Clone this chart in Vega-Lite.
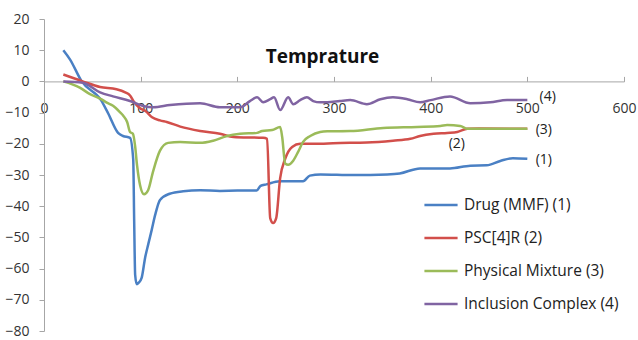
{
  "$schema": "https://vega.github.io/schema/vega-lite/v6.json",
  "width": 580,
  "height": 312,
  "autosize": {"type": "none"},
  "padding": {"left": 44, "top": 19, "right": 14, "bottom": 9},
  "background": "white",
  "config": {"view": {"stroke": null}, "font": "Open Sans"},
  "datasets": {
    "curves": [
      {"series": "Drug (MMF) (1)", "t": 20, "v": 10},
      {"series": "Drug (MMF) (1)", "t": 27, "v": 7},
      {"series": "Drug (MMF) (1)", "t": 39, "v": 0},
      {"series": "Drug (MMF) (1)", "t": 59, "v": -6},
      {"series": "Drug (MMF) (1)", "t": 66, "v": -10},
      {"series": "Drug (MMF) (1)", "t": 76.6, "v": -16.5},
      {"series": "Drug (MMF) (1)", "t": 81.8, "v": -17.5},
      {"series": "Drug (MMF) (1)", "t": 89, "v": -18.1},
      {"series": "Drug (MMF) (1)", "t": 92.3, "v": -25},
      {"series": "Drug (MMF) (1)", "t": 93.3, "v": -45},
      {"series": "Drug (MMF) (1)", "t": 94.3, "v": -62},
      {"series": "Drug (MMF) (1)", "t": 96, "v": -65},
      {"series": "Drug (MMF) (1)", "t": 98, "v": -64.5},
      {"series": "Drug (MMF) (1)", "t": 101, "v": -63},
      {"series": "Drug (MMF) (1)", "t": 104.6, "v": -56.5},
      {"series": "Drug (MMF) (1)", "t": 108, "v": -52},
      {"series": "Drug (MMF) (1)", "t": 111.5, "v": -47.5},
      {"series": "Drug (MMF) (1)", "t": 115, "v": -42.8},
      {"series": "Drug (MMF) (1)", "t": 120, "v": -38},
      {"series": "Drug (MMF) (1)", "t": 130, "v": -36},
      {"series": "Drug (MMF) (1)", "t": 144, "v": -35.2},
      {"series": "Drug (MMF) (1)", "t": 161.5, "v": -34.9},
      {"series": "Drug (MMF) (1)", "t": 182, "v": -35.1},
      {"series": "Drug (MMF) (1)", "t": 200, "v": -35},
      {"series": "Drug (MMF) (1)", "t": 220, "v": -35},
      {"series": "Drug (MMF) (1)", "t": 224, "v": -33.5},
      {"series": "Drug (MMF) (1)", "t": 230, "v": -33},
      {"series": "Drug (MMF) (1)", "t": 244, "v": -32},
      {"series": "Drug (MMF) (1)", "t": 268, "v": -32},
      {"series": "Drug (MMF) (1)", "t": 275, "v": -30.2},
      {"series": "Drug (MMF) (1)", "t": 286, "v": -29.8},
      {"series": "Drug (MMF) (1)", "t": 320, "v": -30},
      {"series": "Drug (MMF) (1)", "t": 355, "v": -29.8},
      {"series": "Drug (MMF) (1)", "t": 368, "v": -29.5},
      {"series": "Drug (MMF) (1)", "t": 389, "v": -27.9},
      {"series": "Drug (MMF) (1)", "t": 420, "v": -27.9},
      {"series": "Drug (MMF) (1)", "t": 441, "v": -27},
      {"series": "Drug (MMF) (1)", "t": 458, "v": -26.9},
      {"series": "Drug (MMF) (1)", "t": 472, "v": -25.5},
      {"series": "Drug (MMF) (1)", "t": 485, "v": -24.6},
      {"series": "Drug (MMF) (1)", "t": 500, "v": -24.8},
      {"series": "PSC[4]R (2)", "t": 20, "v": 2.2},
      {"series": "PSC[4]R (2)", "t": 40, "v": 0},
      {"series": "PSC[4]R (2)", "t": 58, "v": -1.8},
      {"series": "PSC[4]R (2)", "t": 75, "v": -2.5},
      {"series": "PSC[4]R (2)", "t": 84, "v": -3.5},
      {"series": "PSC[4]R (2)", "t": 89, "v": -4.5},
      {"series": "PSC[4]R (2)", "t": 93, "v": -6.5},
      {"series": "PSC[4]R (2)", "t": 99, "v": -8.5},
      {"series": "PSC[4]R (2)", "t": 105, "v": -9.5},
      {"series": "PSC[4]R (2)", "t": 111.8, "v": -11.5},
      {"series": "PSC[4]R (2)", "t": 120, "v": -12.5},
      {"series": "PSC[4]R (2)", "t": 127, "v": -13},
      {"series": "PSC[4]R (2)", "t": 141, "v": -14.5},
      {"series": "PSC[4]R (2)", "t": 161.5, "v": -15.9},
      {"series": "PSC[4]R (2)", "t": 182, "v": -16.8},
      {"series": "PSC[4]R (2)", "t": 196, "v": -17.8},
      {"series": "PSC[4]R (2)", "t": 226.7, "v": -18.1},
      {"series": "PSC[4]R (2)", "t": 230.8, "v": -18.4},
      {"series": "PSC[4]R (2)", "t": 234, "v": -43.8},
      {"series": "PSC[4]R (2)", "t": 237, "v": -45.4},
      {"series": "PSC[4]R (2)", "t": 240.2, "v": -43.8},
      {"series": "PSC[4]R (2)", "t": 244.3, "v": -31},
      {"series": "PSC[4]R (2)", "t": 249.5, "v": -24.8},
      {"series": "PSC[4]R (2)", "t": 256.7, "v": -21},
      {"series": "PSC[4]R (2)", "t": 265, "v": -20},
      {"series": "PSC[4]R (2)", "t": 286, "v": -20},
      {"series": "PSC[4]R (2)", "t": 299, "v": -19.8},
      {"series": "PSC[4]R (2)", "t": 334, "v": -19.6},
      {"series": "PSC[4]R (2)", "t": 361, "v": -19},
      {"series": "PSC[4]R (2)", "t": 379, "v": -18.4},
      {"series": "PSC[4]R (2)", "t": 389, "v": -17.5},
      {"series": "PSC[4]R (2)", "t": 403, "v": -16.8},
      {"series": "PSC[4]R (2)", "t": 417, "v": -16.5},
      {"series": "PSC[4]R (2)", "t": 427.5, "v": -16.2},
      {"series": "PSC[4]R (2)", "t": 438, "v": -15.2},
      {"series": "PSC[4]R (2)", "t": 450, "v": -15.1},
      {"series": "PSC[4]R (2)", "t": 500, "v": -15.2},
      {"series": "Physical Mixture (3)", "t": 20, "v": 0},
      {"series": "Physical Mixture (3)", "t": 37, "v": -2},
      {"series": "Physical Mixture (3)", "t": 47.6, "v": -4.1},
      {"series": "Physical Mixture (3)", "t": 58, "v": -5.5},
      {"series": "Physical Mixture (3)", "t": 65, "v": -6.8},
      {"series": "Physical Mixture (3)", "t": 71.4, "v": -7.8},
      {"series": "Physical Mixture (3)", "t": 78.7, "v": -9.9},
      {"series": "Physical Mixture (3)", "t": 82, "v": -11},
      {"series": "Physical Mixture (3)", "t": 86, "v": -13},
      {"series": "Physical Mixture (3)", "t": 89, "v": -16.2},
      {"series": "Physical Mixture (3)", "t": 92, "v": -16.8},
      {"series": "Physical Mixture (3)", "t": 94.2, "v": -20.6},
      {"series": "Physical Mixture (3)", "t": 96.3, "v": -27},
      {"series": "Physical Mixture (3)", "t": 99.4, "v": -33.3},
      {"series": "Physical Mixture (3)", "t": 103.5, "v": -36.2},
      {"series": "Physical Mixture (3)", "t": 107.7, "v": -34.9},
      {"series": "Physical Mixture (3)", "t": 112.8, "v": -28.9},
      {"series": "Physical Mixture (3)", "t": 120, "v": -22.2},
      {"series": "Physical Mixture (3)", "t": 128.4, "v": -19.7},
      {"series": "Physical Mixture (3)", "t": 140.8, "v": -19.4},
      {"series": "Physical Mixture (3)", "t": 161.5, "v": -19.7},
      {"series": "Physical Mixture (3)", "t": 175, "v": -19},
      {"series": "Physical Mixture (3)", "t": 189.4, "v": -17.5},
      {"series": "Physical Mixture (3)", "t": 202.9, "v": -16.8},
      {"series": "Physical Mixture (3)", "t": 220.5, "v": -16.5},
      {"series": "Physical Mixture (3)", "t": 225.7, "v": -15.9},
      {"series": "Physical Mixture (3)", "t": 236, "v": -15.6},
      {"series": "Physical Mixture (3)", "t": 244.3, "v": -14.6},
      {"series": "Physical Mixture (3)", "t": 246.4, "v": -17.8},
      {"series": "Physical Mixture (3)", "t": 249.5, "v": -26.3},
      {"series": "Physical Mixture (3)", "t": 252.6, "v": -26.7},
      {"series": "Physical Mixture (3)", "t": 257.8, "v": -25.4},
      {"series": "Physical Mixture (3)", "t": 263, "v": -22.5},
      {"series": "Physical Mixture (3)", "t": 268, "v": -19.4},
      {"series": "Physical Mixture (3)", "t": 275.4, "v": -17.5},
      {"series": "Physical Mixture (3)", "t": 285.7, "v": -16.2},
      {"series": "Physical Mixture (3)", "t": 293, "v": -16},
      {"series": "Physical Mixture (3)", "t": 316.8, "v": -15.9},
      {"series": "Physical Mixture (3)", "t": 351, "v": -14.9},
      {"series": "Physical Mixture (3)", "t": 386, "v": -14.6},
      {"series": "Physical Mixture (3)", "t": 410, "v": -14.3},
      {"series": "Physical Mixture (3)", "t": 417, "v": -14},
      {"series": "Physical Mixture (3)", "t": 430.6, "v": -14.3},
      {"series": "Physical Mixture (3)", "t": 438, "v": -15.2},
      {"series": "Physical Mixture (3)", "t": 472, "v": -15.2},
      {"series": "Physical Mixture (3)", "t": 500, "v": -15.2},
      {"series": "Inclusion Complex (4)", "t": 20, "v": 0},
      {"series": "Inclusion Complex (4)", "t": 40, "v": -0.4},
      {"series": "Inclusion Complex (4)", "t": 58, "v": -3.5},
      {"series": "Inclusion Complex (4)", "t": 71.4, "v": -4.8},
      {"series": "Inclusion Complex (4)", "t": 89, "v": -6.3},
      {"series": "Inclusion Complex (4)", "t": 102.5, "v": -7.9},
      {"series": "Inclusion Complex (4)", "t": 113, "v": -8.3},
      {"series": "Inclusion Complex (4)", "t": 130.4, "v": -7.6},
      {"series": "Inclusion Complex (4)", "t": 161.5, "v": -7},
      {"series": "Inclusion Complex (4)", "t": 182, "v": -8.3},
      {"series": "Inclusion Complex (4)", "t": 203, "v": -8.3},
      {"series": "Inclusion Complex (4)", "t": 213, "v": -6.3},
      {"series": "Inclusion Complex (4)", "t": 220.5, "v": -5.1},
      {"series": "Inclusion Complex (4)", "t": 226.7, "v": -6.7},
      {"series": "Inclusion Complex (4)", "t": 234, "v": -5.7},
      {"series": "Inclusion Complex (4)", "t": 238, "v": -5.1},
      {"series": "Inclusion Complex (4)", "t": 244.3, "v": -9.2},
      {"series": "Inclusion Complex (4)", "t": 252.6, "v": -5.1},
      {"series": "Inclusion Complex (4)", "t": 257.8, "v": -7.3},
      {"series": "Inclusion Complex (4)", "t": 265, "v": -6},
      {"series": "Inclusion Complex (4)", "t": 272, "v": -5.1},
      {"series": "Inclusion Complex (4)", "t": 278.5, "v": -6.3},
      {"series": "Inclusion Complex (4)", "t": 285.7, "v": -6.7},
      {"series": "Inclusion Complex (4)", "t": 293, "v": -6.7},
      {"series": "Inclusion Complex (4)", "t": 306, "v": -6.3},
      {"series": "Inclusion Complex (4)", "t": 316.8, "v": -6},
      {"series": "Inclusion Complex (4)", "t": 334, "v": -7.3},
      {"series": "Inclusion Complex (4)", "t": 348, "v": -5.7},
      {"series": "Inclusion Complex (4)", "t": 361, "v": -5.1},
      {"series": "Inclusion Complex (4)", "t": 375.8, "v": -5.7},
      {"series": "Inclusion Complex (4)", "t": 389, "v": -6.7},
      {"series": "Inclusion Complex (4)", "t": 400, "v": -6},
      {"series": "Inclusion Complex (4)", "t": 420, "v": -4.8},
      {"series": "Inclusion Complex (4)", "t": 441, "v": -7},
      {"series": "Inclusion Complex (4)", "t": 461.7, "v": -6.7},
      {"series": "Inclusion Complex (4)", "t": 479, "v": -6},
      {"series": "Inclusion Complex (4)", "t": 500, "v": -6}
    ],
    "notes": [
      {"label": "(4)", "t": 521, "v": -5.1},
      {"label": "(3)", "t": 517, "v": -15.6},
      {"label": "(2)", "t": 427, "v": -20},
      {"label": "(1)", "t": 517, "v": -25.1}
    ]
  },
  "encoding": {
    "x": {
      "field": "t", "type": "quantitative",
      "scale": {"domain": [0, 600], "nice": false},
      "axis": {
        "orient": "top", "offset": -62.4,
        "values": [0, 100, 200, 300, 400, 500, 600],
        "tickSize": 5, "labelPadding": -39, "labelFlush": false, "labelOverlap": false,
        "domainColor": "#a6a6a6", "tickColor": "#a6a6a6",
        "labelColor": "#333333", "labelFontSize": 14,
        "title": "Temprature", "titleFontSize": 19, "titleFontWeight": "bold",
        "titleColor": "#111111", "titleX": 278, "titleY": -25,
        "titleBaseline": "middle", "titleAlign": "center", "grid": false
      }
    },
    "y": {
      "field": "v", "type": "quantitative",
      "scale": {"domain": [-80, 20], "nice": false},
      "axis": {
        "values": [-80, -70, -60, -50, -40, -30, -20, -10, 0, 10, 20],
        "tickCount": 11,
        "tickSize": 5, "labelPadding": 10, "labelOverlap": false,
        "domainColor": "#a6a6a6", "tickColor": "#a6a6a6",
        "labelColor": "#333333", "labelFontSize": 14,
        "title": null, "grid": false
      }
    }
  },
  "layer": [
    {
      "data": {"name": "curves"},
      "mark": {"type": "line", "interpolate": "monotone", "strokeWidth": 2.5},
      "encoding": {
        "color": {
          "field": "series", "type": "nominal",
          "scale": {
            "domain": ["Drug (MMF) (1)", "PSC[4]R (2)", "Physical Mixture (3)", "Inclusion Complex (4)"],
            "range": ["#4a80c4", "#d24f4b", "#9bbb59", "#8064a2"]
          },
          "legend": {
            "orient": "none", "legendX": 379, "legendY": 168, "title": null,
            "symbolType": "stroke", "symbolSize": 1100, "symbolStrokeWidth": 2.5,
            "labelFontSize": 15.5, "labelColor": "#222222", "labelOffset": 5,
            "rowPadding": 6, "padding": 0
          }
        }
      }
    },
    {
      "data": {"name": "notes"},
      "mark": {"type": "text", "fontSize": 14, "color": "#222222"},
      "encoding": {
        "text": {"field": "label"}
      }
    }
  ]
}
